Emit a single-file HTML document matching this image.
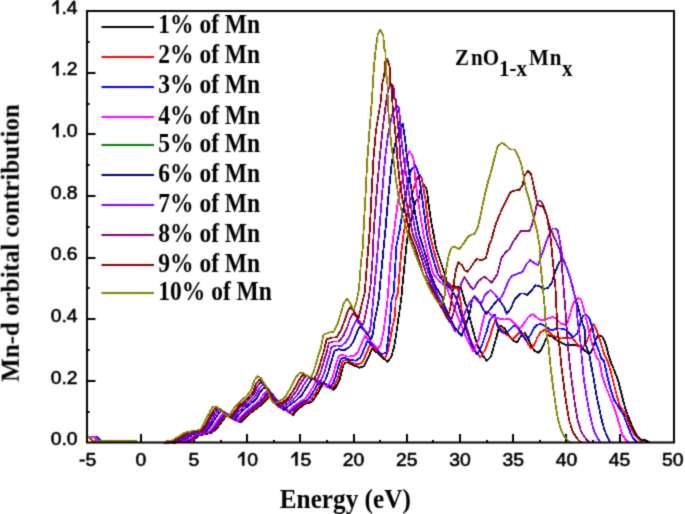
<!DOCTYPE html>
<html><head><meta charset="utf-8"><style>
html,body{margin:0;padding:0;background:#fff;width:685px;height:514px;overflow:hidden}
svg{display:block}
.tl{font-family:"Liberation Sans",sans-serif;font-size:17.6px;fill:#000;stroke:#000;stroke-width:0.55px;stroke-linejoin:round}
.al{font-family:"Liberation Serif",serif;font-weight:bold;font-size:24.5px;fill:#000}
.lg{font-family:"Liberation Serif",serif;font-weight:bold;font-size:23.5px;fill:#000}
.ti{font-family:"Liberation Serif",serif;font-weight:bold;font-size:21px;fill:#000}
</style></head><body>
<svg width="685" height="514" viewBox="0 0 685 514">
<defs><filter id="sm" filterUnits="userSpaceOnUse" x="0" y="0" width="685" height="514" color-interpolation-filters="sRGB"><feConvolveMatrix order="3" kernelMatrix="0.0289 0.1122 0.0289 0.1122 0.4356 0.1122 0.0289 0.1122 0.0289" divisor="1" edgeMode="duplicate" preserveAlpha="true"/></filter></defs>
<rect width="685" height="514" fill="#fff"/>
<g filter="url(#sm)">
<rect width="685" height="514" fill="#fff"/>
<line x1="114.0" y1="442.5" x2="114.0" y2="439.9" stroke="#000" stroke-width="2"/>
<line x1="141.0" y1="442.5" x2="141.0" y2="434.0" stroke="#000" stroke-width="2"/>
<line x1="167.0" y1="442.5" x2="167.0" y2="439.9" stroke="#000" stroke-width="2"/>
<line x1="194.0" y1="442.5" x2="194.0" y2="434.0" stroke="#000" stroke-width="2"/>
<line x1="221.0" y1="442.5" x2="221.0" y2="439.9" stroke="#000" stroke-width="2"/>
<line x1="247.0" y1="442.5" x2="247.0" y2="434.0" stroke="#000" stroke-width="2"/>
<line x1="274.0" y1="442.5" x2="274.0" y2="439.9" stroke="#000" stroke-width="2"/>
<line x1="300.0" y1="442.5" x2="300.0" y2="434.0" stroke="#000" stroke-width="2"/>
<line x1="327.0" y1="442.5" x2="327.0" y2="439.9" stroke="#000" stroke-width="2"/>
<line x1="354.0" y1="442.5" x2="354.0" y2="434.0" stroke="#000" stroke-width="2"/>
<line x1="380.0" y1="442.5" x2="380.0" y2="439.9" stroke="#000" stroke-width="2"/>
<line x1="407.0" y1="442.5" x2="407.0" y2="434.0" stroke="#000" stroke-width="2"/>
<line x1="433.0" y1="442.5" x2="433.0" y2="439.9" stroke="#000" stroke-width="2"/>
<line x1="460.0" y1="442.5" x2="460.0" y2="434.0" stroke="#000" stroke-width="2"/>
<line x1="487.0" y1="442.5" x2="487.0" y2="439.9" stroke="#000" stroke-width="2"/>
<line x1="513.0" y1="442.5" x2="513.0" y2="434.0" stroke="#000" stroke-width="2"/>
<line x1="540.0" y1="442.5" x2="540.0" y2="439.9" stroke="#000" stroke-width="2"/>
<line x1="566.0" y1="442.5" x2="566.0" y2="434.0" stroke="#000" stroke-width="2"/>
<line x1="593.0" y1="442.5" x2="593.0" y2="439.9" stroke="#000" stroke-width="2"/>
<line x1="620.0" y1="442.5" x2="620.0" y2="434.0" stroke="#000" stroke-width="2"/>
<line x1="646.0" y1="442.5" x2="646.0" y2="439.9" stroke="#000" stroke-width="2"/>
<line x1="87.0" y1="412.0" x2="89.6" y2="412.0" stroke="#000" stroke-width="2"/>
<line x1="87.0" y1="381.0" x2="95.5" y2="381.0" stroke="#000" stroke-width="2"/>
<line x1="87.0" y1="350.0" x2="89.6" y2="350.0" stroke="#000" stroke-width="2"/>
<line x1="87.0" y1="319.0" x2="95.5" y2="319.0" stroke="#000" stroke-width="2"/>
<line x1="87.0" y1="288.0" x2="89.6" y2="288.0" stroke="#000" stroke-width="2"/>
<line x1="87.0" y1="258.0" x2="95.5" y2="258.0" stroke="#000" stroke-width="2"/>
<line x1="87.0" y1="227.0" x2="89.6" y2="227.0" stroke="#000" stroke-width="2"/>
<line x1="87.0" y1="196.0" x2="95.5" y2="196.0" stroke="#000" stroke-width="2"/>
<line x1="87.0" y1="165.0" x2="89.6" y2="165.0" stroke="#000" stroke-width="2"/>
<line x1="87.0" y1="134.0" x2="95.5" y2="134.0" stroke="#000" stroke-width="2"/>
<line x1="87.0" y1="104.0" x2="89.6" y2="104.0" stroke="#000" stroke-width="2"/>
<line x1="87.0" y1="73.0" x2="95.5" y2="73.0" stroke="#000" stroke-width="2"/>
<line x1="87.0" y1="42.0" x2="89.6" y2="42.0" stroke="#000" stroke-width="2"/>
<path d="M87.0,436.8 L94.0,436.8 L96.0,438.3 L98.0,440.5 L100.0,440.9 L136.0,440.9 L138.0,442.5 M174.0,443.2 L176.0,442.4 L179.0,441.5 L185.0,441.3 L188.0,440.8 L192.6,440.5 L197.0,437.0 L199.5,435.4 L203.0,434.5 L206.0,434.0 L212.0,432.5 L214.0,431.0 L216.5,428.5 L219.5,425.0 L222.8,420.3 L225.7,416.9 L228.6,415.2 L231.0,415.5 L234.0,418.5 L238.0,421.5 L240.5,422.5 L244.0,419.0 L248.7,414.4 L253.3,410.9 L258.0,407.4 L262.7,403.9 L266.2,400.3 L270.0,396.5 L274.0,397.5 L280.0,403.0 L285.0,408.0 L289.0,412.0 L293.0,414.8 L299.0,408.4 L305.2,403.8 L311.4,402.2 L316.1,396.0 L322.3,385.1 L325.4,383.5 L329.0,386.0 L333.2,389.8 L336.3,386.7 L339.4,380.4 L341.8,371.1 L343.6,365.0 L345.0,363.0 L347.7,362.2 L353.2,365.0 L359.3,367.7 L364.1,366.3 L368.1,358.1 L372.0,348.5 L380.4,355.4 L387.5,362.0 L391.3,356.8 L394.0,347.2 L395.9,336.3 L398.6,317.2 L401.1,300.0 L403.0,280.0 L405.2,258.0 L407.0,240.0 L410.0,225.0 L413.0,212.0 L415.4,201.0 L419.2,198.4 L419.8,191.4 L421.5,186.7 L423.9,184.9 L426.2,187.9 L427.4,193.7 L428.0,200.0 L431.2,222.0 L433.7,235.0 L436.0,248.0 L440.0,260.0 L444.7,274.0 L447.1,282.6 L452.0,286.0 L456.0,286.5 L460.7,287.0 L462.7,294.3 L464.6,301.1 L467.2,308.6 L469.9,318.1 L473.5,332.0 L477.3,345.1 L482.0,354.4 L486.8,360.9 L490.9,356.8 L493.6,347.2 L496.3,337.7 L498.4,329.5 L501.1,326.1 L504.5,328.2 L508.6,335.0 L512.7,340.4 L516.8,342.5 L520.9,336.3 L525.0,332.9 L528.4,339.1 L531.8,347.2 L535.2,351.3 L538.6,352.7 L542.0,348.6 L545.4,340.4 L548.1,335.0 L553.1,337.2 L557.2,340.6 L561.3,342.7 L565.4,344.7 L570.4,345.2 L575.9,345.2 L581.3,347.2 L585.4,351.3 L589.5,354.0 L592.2,350.0 L595.0,341.8 L597.7,335.0 L601.8,336.3 L604.5,340.4 L606.6,347.2 L608.6,355.4 L610.5,361.1 L614.2,370.3 L617.9,379.6 L620.7,390.7 L623.4,401.8 L626.2,411.0 L629.0,418.4 L632.7,427.6 L636.4,435.0 L641.0,439.6 L646.5,440.6 L649.3,442.4 " stroke="#000000" stroke-width="1.8" fill="none" stroke-linejoin="round" shape-rendering="crispEdges"/>
<path d="M87.0,436.8 L93.0,436.8 L95.0,438.3 L97.0,440.5 L99.0,440.9 L136.0,440.9 L138.0,442.5 M173.1,443.2 L175.1,442.4 L178.1,441.4 L184.0,441.2 L187.0,440.6 L191.6,440.2 L195.9,436.7 L198.5,435.2 L202.0,434.3 L205.0,433.8 L211.0,432.3 L213.0,430.8 L215.5,428.2 L218.4,424.5 L221.7,419.8 L224.5,416.4 L227.4,414.6 L229.8,414.8 L232.9,417.9 L237.0,421.0 L239.6,422.1 L243.1,418.3 L247.8,413.7 L252.3,410.2 L257.1,406.6 L261.8,402.9 L265.3,398.8 L269.0,395.0 L272.9,396.1 L278.9,401.7 L283.7,407.0 L287.6,411.2 L291.5,414.0 L297.4,407.9 L303.6,403.3 L309.8,401.1 L314.5,394.6 L320.5,384.2 L323.7,382.8 L327.2,385.3 L331.4,388.9 L334.5,385.6 L337.5,379.2 L339.9,370.0 L341.8,363.8 L343.3,360.9 L346.2,360.1 L351.7,362.6 L357.6,364.4 L362.3,362.3 L366.1,354.2 L370.0,344.9 L378.0,351.6 L384.8,358.2 L387.2,354.0 L389.9,340.4 L392.5,326.8 L395.2,314.5 L395.6,300.0 L397.9,292.7 L401.1,254.0 L403.8,232.0 L408.0,210.0 L413.0,191.0 L417.4,177.4 L419.8,174.4 L422.1,179.7 L423.3,186.7 L424.4,193.7 L425.6,200.0 L427.0,215.0 L429.8,235.0 L435.0,255.0 L440.7,274.0 L447.0,283.0 L452.0,287.0 L457.8,288.5 L460.7,302.1 L461.7,310.9 L466.0,325.0 L470.0,338.0 L475.0,350.0 L480.4,357.5 L485.1,349.8 L489.8,337.3 L492.9,326.4 L495.2,321.0 L500.4,328.2 L504.5,332.3 L508.6,336.3 L512.7,339.1 L516.8,335.0 L520.9,330.9 L525.0,337.7 L528.4,344.5 L531.1,348.6 L534.5,344.5 L537.2,337.7 L540.6,332.3 L544.0,330.2 L548.1,330.9 L553.1,335.9 L557.2,337.2 L561.3,338.6 L565.4,337.9 L570.4,337.7 L574.5,340.4 L578.6,345.9 L582.7,347.2 L586.8,341.8 L590.9,329.5 L593.6,324.1 L596.3,329.5 L598.4,335.0 L600.4,341.8 L602.5,348.6 L604.5,355.4 L607.7,361.1 L611.4,374.0 L614.2,385.1 L617.0,396.2 L619.7,405.5 L623.4,411.0 L627.1,418.4 L630.8,427.6 L634.5,435.0 L639.1,439.6 L642.8,442.4 " stroke="#ff0000" stroke-width="1.8" fill="none" stroke-linejoin="round" shape-rendering="crispEdges"/>
<path d="M87.0,436.8 L97.0,436.8 L99.0,438.3 L101.0,440.5 L103.0,440.9 L136.0,440.9 L138.0,442.5 M172.1,443.2 L174.1,442.4 L176.9,441.4 L182.8,441.2 L185.7,440.4 L190.4,439.8 L194.7,436.4 L197.2,434.9 L200.7,434.1 L203.7,433.5 L209.7,432.2 L211.7,430.6 L214.2,427.9 L217.1,424.0 L220.3,419.3 L223.1,415.8 L225.9,413.9 L228.4,414.1 L231.6,417.2 L235.7,420.4 L238.4,421.6 L242.0,417.6 L246.7,412.9 L251.2,409.4 L256.0,405.6 L260.7,401.7 L264.1,397.2 L267.8,393.4 L271.6,394.5 L277.5,400.4 L282.1,405.8 L285.9,410.2 L289.6,413.1 L295.5,407.3 L301.6,402.8 L307.8,399.8 L312.5,393.1 L318.3,383.2 L321.6,382.0 L325.1,384.4 L329.2,387.9 L332.3,384.3 L335.3,377.8 L337.7,368.7 L339.6,362.4 L341.2,358.7 L344.4,357.7 L349.8,359.9 L355.6,360.7 L360.1,357.9 L363.8,349.8 L367.5,340.9 L375.0,347.4 L381.5,354.0 L386.3,352.7 L389.0,330.9 L391.6,300.0 L393.8,292.7 L396.3,247.0 L399.7,230.0 L401.8,217.0 L404.0,205.0 L407.5,185.0 L411.0,170.0 L415.1,165.1 L417.4,170.3 L418.6,175.0 L419.8,182.0 L420.9,189.0 L422.1,197.2 L424.0,212.0 L427.1,235.0 L432.0,255.0 L437.7,274.0 L444.0,282.0 L450.0,288.0 L455.9,297.2 L458.8,306.0 L460.7,313.8 L465.0,326.0 L470.0,340.0 L474.0,350.0 L477.3,354.4 L482.0,345.1 L486.7,331.1 L489.6,320.8 L492.9,315.6 L495.0,315.0 L497.7,326.8 L501.8,332.3 L505.9,333.6 L510.0,329.5 L514.1,325.4 L518.1,328.2 L522.2,335.0 L526.3,340.4 L530.4,335.0 L533.8,328.2 L537.2,324.8 L541.3,324.1 L545.4,326.1 L550.0,329.5 L551.8,330.4 L555.9,328.4 L559.9,328.4 L564.0,329.0 L568.1,331.8 L573.2,337.0 L577.3,333.6 L580.0,324.1 L582.7,315.9 L586.1,314.5 L588.8,317.2 L590.9,322.7 L592.9,329.5 L594.3,337.7 L596.3,344.5 L599.1,351.3 L601.1,358.1 L604.0,361.1 L606.8,374.0 L610.5,388.8 L614.2,399.9 L618.8,407.3 L623.4,414.7 L627.1,423.9 L629.9,431.3 L633.6,438.7 L637.3,442.4 " stroke="#0000ff" stroke-width="1.8" fill="none" stroke-linejoin="round" shape-rendering="crispEdges"/>
<path d="M87.0,436.8 L94.5,436.8 L96.5,438.3 L98.5,440.5 L100.5,440.9 L136.0,440.9 L138.0,442.5 M170.9,443.2 L172.9,442.4 L175.7,441.3 L181.4,441.1 L184.3,440.2 L189.0,439.3 L193.3,436.1 L195.8,434.6 L199.3,433.9 L202.3,433.1 L208.4,431.9 L210.3,430.4 L212.8,427.5 L215.7,423.3 L218.8,418.7 L221.5,415.0 L224.2,413.0 L226.8,413.2 L230.1,416.3 L234.3,419.7 L237.2,421.1 L240.8,416.7 L245.5,411.9 L249.9,408.4 L254.8,404.5 L259.5,400.3 L262.9,395.3 L266.5,391.4 L270.2,392.6 L276.0,398.7 L280.4,404.5 L284.1,409.1 L287.6,412.0 L293.3,406.7 L299.5,402.2 L305.7,398.3 L310.4,391.3 L315.9,381.9 L319.3,381.0 L322.7,383.4 L326.8,386.7 L329.9,382.8 L332.8,376.1 L335.2,367.2 L337.1,360.7 L338.9,355.9 L342.5,354.8 L347.8,356.6 L353.3,356.2 L357.7,352.5 L361.2,344.5 L364.9,335.9 L371.8,342.2 L377.9,348.9 L380.9,344.5 L383.6,330.9 L386.3,310.4 L387.5,300.0 L389.0,280.0 L391.0,255.0 L393.8,233.4 L397.6,204.0 L400.0,190.0 L402.5,181.0 L404.5,169.0 L406.5,158.0 L409.3,151.1 L412.2,155.2 L413.9,161.0 L414.5,170.3 L415.1,178.5 L416.3,186.7 L417.4,196.0 L419.5,210.0 L423.6,235.0 L428.0,255.0 L433.3,274.0 L440.0,282.0 L447.0,287.0 L449.0,294.0 L454.0,307.0 L460.0,322.0 L466.0,337.0 L470.0,345.0 L473.4,351.3 L478.9,338.9 L482.0,324.9 L484.3,315.6 L486.0,311.5 L488.5,312.0 L492.0,316.0 L497.0,318.0 L501.0,319.0 L504.1,319.5 L508.2,318.8 L512.3,320.9 L516.3,325.6 L520.4,328.4 L523.8,323.6 L528.6,316.8 L532.7,314.1 L536.8,317.5 L540.9,320.2 L545.0,320.2 L549.0,318.1 L553.1,316.8 L557.2,319.5 L561.3,323.6 L565.4,325.0 L567.7,322.7 L571.8,307.7 L574.5,300.9 L577.9,298.2 L581.3,299.5 L583.4,307.7 L585.4,315.9 L587.5,324.1 L589.5,333.6 L591.6,341.8 L593.6,348.6 L596.3,356.8 L599.4,361.1 L602.2,375.9 L605.9,387.0 L609.6,396.2 L613.3,405.5 L617.0,416.5 L619.7,425.8 L622.5,435.0 L626.2,440.6 L629.0,442.4 " stroke="#ff00ff" stroke-width="1.8" fill="none" stroke-linejoin="round" shape-rendering="crispEdges"/>
<path d="M87.0,436.8 L88.0,436.8 L90.0,438.3 L92.0,440.5 L94.0,440.9 L136.0,440.9 L138.0,442.5 M168.7,443.2 L170.7,442.4 L173.3,441.1 L178.9,440.9 L181.7,439.8 L186.4,438.5 L190.6,435.4 L193.2,434.1 L196.7,433.5 L199.7,432.5 L205.8,431.5 L207.7,429.9 L210.2,426.7 L213.0,422.1 L216.0,417.5 L218.6,413.6 L221.1,411.4 L223.9,411.5 L227.3,414.7 L231.6,418.4 L234.8,420.0 L238.5,415.0 L243.2,410.0 L247.4,406.5 L252.5,402.3 L257.2,397.6 L260.5,391.5 L264.0,387.6 L267.5,388.9 L273.1,395.4 L277.1,401.8 L280.6,406.9 L283.8,409.8 L289.3,405.4 L295.4,401.0 L301.6,395.4 L306.3,387.8 L311.4,379.6 L314.9,379.1 L318.2,381.5 L322.3,384.3 L325.4,379.8 L328.1,372.9 L330.5,364.3 L332.5,357.4 L334.5,350.5 L338.7,349.2 L343.9,350.4 L349.1,347.6 L353.1,342.2 L356.2,334.3 L359.8,326.5 L365.7,332.3 L371.1,339.1 L373.0,334.0 L374.1,324.0 L376.8,310.0 L378.6,300.0 L381.5,270.0 L385.4,230.0 L388.5,195.0 L391.7,163.0 L396.0,140.0 L400.0,128.0 L402.7,123.5 L405.2,140.0 L406.3,151.7 L407.5,159.8 L410.0,180.0 L413.0,200.0 L416.0,218.0 L419.3,235.0 L425.0,253.0 L430.5,274.0 L436.0,287.0 L442.2,297.2 L444.2,305.0 L450.0,318.0 L455.0,328.0 L461.4,336.0 L466.0,325.0 L470.0,312.0 L472.0,300.0 L474.1,296.3 L478.2,300.3 L483.6,309.9 L486.3,314.0 L491.8,307.1 L497.2,300.3 L499.9,300.8 L504.0,307.1 L506.7,314.0 L510.8,308.5 L514.9,299.0 L520.3,293.5 L523.8,293.6 L527.2,295.0 L531.3,290.9 L535.4,285.4 L539.5,286.1 L543.6,288.9 L547.7,288.2 L551.8,282.7 L555.3,271.3 L559.6,261.7 L563.9,260.6 L567.1,269.2 L571.3,282.0 L575.6,299.1 L577.9,306.3 L580.7,317.2 L582.7,324.1 L585.0,330.0 L585.4,344.5 L589.2,353.7 L591.1,364.8 L593.9,379.6 L596.6,396.2 L599.4,409.1 L602.2,422.1 L605.0,431.3 L607.7,437.8 L610.5,442.4 " stroke="#008000" stroke-width="1.8" fill="none" stroke-linejoin="round" shape-rendering="crispEdges"/>
<path d="M87.0,436.8 L88.0,436.8 L90.0,438.3 L92.0,440.5 L94.0,440.9 L136.0,440.9 L138.0,442.5 M168.7,443.2 L170.7,442.4 L173.3,441.1 L178.9,440.9 L181.7,439.8 L186.4,438.5 L190.6,435.4 L193.2,434.1 L196.7,433.5 L199.7,432.5 L205.8,431.5 L207.7,429.9 L210.2,426.7 L213.0,422.1 L216.0,417.5 L218.6,413.6 L221.1,411.4 L223.9,411.5 L227.3,414.7 L231.6,418.4 L234.8,420.0 L238.5,415.0 L243.2,410.0 L247.4,406.5 L252.5,402.3 L257.2,397.6 L260.5,391.5 L264.0,387.6 L267.5,388.9 L273.1,395.4 L277.1,401.8 L280.6,406.9 L283.8,409.8 L289.3,405.4 L295.4,401.0 L301.6,395.4 L306.3,387.8 L311.4,379.6 L314.9,379.1 L318.2,381.5 L322.3,384.3 L325.4,379.8 L328.1,372.9 L330.5,364.3 L332.5,357.4 L334.5,350.5 L338.7,349.2 L343.9,350.4 L349.1,347.6 L353.1,342.2 L356.2,334.3 L359.8,326.5 L365.7,332.3 L371.1,339.1 L373.0,334.0 L374.1,324.0 L376.8,310.0 L378.6,300.0 L381.5,270.0 L385.4,230.0 L388.5,195.0 L391.7,163.0 L396.0,140.0 L400.0,128.0 L402.7,123.5 L405.2,140.0 L406.3,151.7 L407.5,159.8 L410.0,180.0 L413.0,200.0 L416.0,218.0 L419.3,235.0 L425.0,253.0 L430.5,274.0 L436.0,287.0 L442.2,297.2 L444.2,305.0 L450.0,318.0 L455.0,328.0 L461.4,336.0 L466.0,325.0 L470.0,312.0 L472.0,300.0 L474.1,296.3 L478.2,300.3 L483.6,309.9 L486.3,314.0 L491.8,307.1 L497.2,300.3 L499.9,300.8 L504.0,307.1 L506.7,314.0 L510.8,308.5 L514.9,299.0 L520.3,293.5 L523.8,293.6 L527.2,295.0 L531.3,290.9 L535.4,285.4 L539.5,286.1 L543.6,288.9 L547.7,288.2 L551.8,282.7 L555.3,271.3 L559.6,261.7 L563.9,260.6 L567.1,269.2 L571.3,282.0 L575.6,299.1 L577.9,306.3 L580.7,317.2 L582.7,324.1 L585.0,330.0 L585.4,344.5 L589.2,353.7 L591.1,364.8 L593.9,379.6 L596.6,396.2 L599.4,409.1 L602.2,422.1 L605.0,431.3 L607.7,437.8 L610.5,442.4 " stroke="#000080" stroke-width="1.8" fill="none" stroke-linejoin="round" shape-rendering="crispEdges"/>
<path d="M87.0,436.8 L88.0,436.8 L90.0,438.3 L92.0,440.5 L94.0,440.9 L136.0,440.9 L138.0,442.5 M167.1,443.2 L169.1,442.4 L171.6,441.0 L177.2,440.8 L180.0,439.5 L184.7,437.9 L188.8,434.9 L191.4,433.7 L194.9,433.2 L197.9,432.1 L204.0,431.3 L205.9,429.6 L208.4,426.2 L211.2,421.3 L214.1,416.7 L216.5,412.7 L219.0,410.3 L221.8,410.3 L225.4,413.6 L229.8,417.5 L233.2,419.3 L237.0,413.8 L241.7,408.7 L245.8,405.2 L251.0,400.8 L255.7,395.8 L258.9,388.9 L262.3,385.0 L265.7,386.4 L271.2,393.2 L274.8,400.0 L278.2,405.4 L281.2,408.4 L286.5,404.5 L292.6,400.2 L298.8,393.4 L303.5,385.4 L308.3,378.0 L311.9,377.8 L315.2,380.2 L319.2,382.7 L322.3,377.9 L324.9,370.7 L327.2,362.3 L329.4,355.2 L331.5,346.9 L336.2,345.4 L341.2,346.1 L346.2,341.8 L350.0,335.2 L352.8,327.4 L356.3,320.1 L361.5,325.6 L366.4,332.5 L368.0,333.0 L370.0,331.0 L371.5,318.0 L373.2,300.0 L376.0,270.0 L379.3,230.0 L382.0,195.0 L384.9,160.0 L388.0,135.0 L392.0,115.0 L396.9,105.3 L399.0,108.0 L400.0,120.0 L401.5,140.0 L404.0,160.0 L407.0,180.0 L410.0,200.0 L413.0,218.0 L416.2,235.0 L422.0,252.0 L428.9,274.0 L434.0,287.0 L440.0,300.0 L446.0,313.0 L451.0,323.0 L455.0,331.0 L458.0,330.0 L462.0,320.0 L466.0,310.0 L470.0,302.0 L474.0,297.0 L478.0,301.0 L481.6,303.1 L485.0,294.9 L490.4,290.1 L495.2,294.9 L499.3,300.3 L502.7,294.9 L506.1,286.7 L508.8,279.9 L512.2,275.9 L517.6,273.8 L522.4,271.8 L525.8,265.0 L530.0,260.2 L533.9,262.8 L538.2,264.9 L543.5,250.0 L546.0,242.5 L548.3,236.7 L550.7,230.9 L553.0,228.5 L555.3,228.5 L557.7,230.9 L558.9,236.7 L560.6,245.7 L562.7,259.1 L566.8,267.2 L569.5,275.4 L572.3,285.0 L574.3,294.5 L576.3,302.7 L577.3,317.2 L580.0,337.7 L582.0,360.0 L583.7,377.7 L586.5,396.2 L589.2,411.0 L592.0,423.9 L594.8,433.2 L598.5,439.6 L600.3,442.4 " stroke="#8000ff" stroke-width="1.8" fill="none" stroke-linejoin="round" shape-rendering="crispEdges"/>
<path d="M87.0,436.8 L88.0,436.8 L90.0,438.3 L92.0,440.5 L94.0,440.9 L136.0,440.9 L138.0,442.5 M165.8,443.2 L167.8,442.4 L170.1,440.9 L175.6,440.7 L178.3,439.2 L183.1,437.3 L187.1,434.4 L189.8,433.3 L193.2,432.9 L196.2,431.6 L202.4,431.0 L204.2,429.2 L206.8,425.7 L209.5,420.4 L212.3,415.9 L214.7,411.7 L217.0,409.1 L220.0,409.1 L223.6,412.4 L228.2,416.6 L231.7,418.5 L235.5,412.5 L240.2,407.4 L244.2,403.8 L249.5,399.2 L254.2,393.8 L257.4,386.2 L260.7,382.3 L264.0,383.7 L269.4,390.8 L272.8,398.1 L276.0,403.8 L278.8,406.9 L284.0,403.5 L290.1,399.3 L296.2,391.3 L300.9,382.8 L305.4,376.2 L309.1,376.4 L312.4,378.8 L316.3,381.0 L319.4,375.7 L321.9,368.4 L324.2,360.2 L326.5,352.9 L328.8,343.0 L333.8,341.4 L338.8,341.6 L343.5,335.6 L347.1,327.7 L349.7,320.0 L353.1,313.3 L357.6,318.4 L362.1,325.4 L364.0,322.0 L366.0,312.0 L368.4,300.0 L370.5,285.0 L372.5,260.0 L373.8,230.0 L376.5,195.0 L379.5,160.0 L382.5,130.0 L385.9,103.5 L388.0,90.0 L391.2,83.4 L393.6,87.3 L393.8,98.2 L395.9,100.0 L397.0,115.0 L399.0,135.0 L400.5,160.0 L403.0,180.0 L406.0,200.0 L409.5,218.0 L413.1,235.0 L419.0,250.0 L426.3,274.0 L432.0,287.0 L438.0,300.0 L444.0,312.0 L447.0,318.0 L450.0,322.0 L452.0,318.0 L455.0,307.0 L458.0,296.0 L461.0,284.0 L464.5,277.2 L467.2,281.3 L470.0,286.0 L473.4,289.5 L478.2,281.3 L484.3,276.5 L491.8,282.7 L497.2,274.5 L499.3,266.3 L501.3,258.2 L505.4,252.7 L509.5,249.0 L512.0,243.6 L515.9,237.8 L521.3,230.5 L525.0,230.9 L529.7,230.9 L531.4,226.2 L533.2,220.3 L534.9,213.3 L536.1,207.5 L537.8,201.7 L540.8,201.1 L543.1,204.6 L544.8,209.8 L546.6,215.7 L548.3,222.7 L551.0,230.0 L553.0,234.4 L556.5,242.5 L560.0,250.0 L561.4,260.4 L563.4,285.0 L565.4,310.0 L566.8,330.0 L567.8,344.3 L570.2,368.6 L572.7,388.1 L575.1,405.1 L577.5,419.7 L581.2,431.8 L586.0,439.1 L589.7,442.4 " stroke="#800080" stroke-width="1.8" fill="none" stroke-linejoin="round" shape-rendering="crispEdges"/>
<path d="M87.0,436.8 L88.0,436.8 L90.0,438.3 L92.0,440.5 L94.0,440.9 L136.0,440.9 L138.0,442.5 M164.6,443.2 L166.6,442.4 L168.9,440.8 L174.2,440.6 L176.9,438.9 L181.7,436.7 L185.7,433.9 L188.4,432.9 L191.9,432.6 L194.9,431.2 L201.0,430.7 L202.9,428.9 L205.4,425.2 L208.1,419.5 L210.8,415.1 L213.1,410.7 L215.4,408.0 L218.4,407.9 L222.2,411.3 L226.8,415.7 L230.5,417.8 L234.3,411.3 L239.0,406.1 L242.9,402.5 L248.3,397.7 L253.0,392.0 L256.2,383.6 L259.4,379.7 L262.6,381.2 L267.8,388.6 L271.0,396.3 L274.1,402.3 L276.7,405.4 L281.9,402.7 L287.9,398.5 L294.1,389.3 L298.8,380.4 L303.0,374.6 L306.8,375.1 L310.0,377.5 L313.9,379.4 L317.0,373.7 L319.4,366.2 L321.7,358.2 L324.1,350.7 L326.5,339.4 L331.8,337.6 L336.7,337.3 L341.2,329.7 L344.6,320.6 L347.1,313.0 L350.4,306.9 L354.3,311.6 L358.4,318.7 L362.9,300.0 L364.5,294.0 L365.5,283.0 L367.1,262.0 L368.5,245.0 L369.8,230.0 L371.5,195.0 L373.4,160.0 L376.0,130.0 L378.5,115.0 L381.0,100.0 L382.0,85.0 L384.3,75.0 L385.0,62.0 L387.2,58.9 L389.7,67.0 L390.0,84.0 L392.0,87.0 L392.5,105.0 L394.5,125.0 L396.5,145.0 L397.5,160.0 L399.5,180.0 L402.5,200.0 L406.0,215.0 L410.1,235.0 L416.0,250.0 L423.2,274.0 L429.0,285.0 L434.0,295.0 L440.0,305.0 L444.0,312.0 L447.0,316.0 L449.5,312.0 L451.0,304.0 L452.5,292.0 L454.0,282.0 L455.0,275.0 L456.5,267.7 L458.4,262.3 L461.8,265.0 L464.5,270.4 L467.2,271.8 L470.6,267.7 L474.0,262.3 L477.0,259.2 L481.8,260.2 L485.7,258.2 L487.7,251.4 L489.6,243.6 L491.4,240.0 L495.7,224.1 L501.0,211.3 L506.4,200.6 L510.6,192.0 L512.8,191.0 L519.2,189.9 L522.4,185.6 L524.5,176.0 L527.8,170.6 L531.0,173.9 L533.1,183.5 L535.0,192.3 L536.1,198.2 L538.5,205.5 L542.5,206.3 L544.8,211.0 L547.2,216.8 L548.3,223.9 L549.5,230.9 L550.7,239.0 L551.8,250.0 L553.0,262.8 L554.2,275.6 L555.3,284.2 L556.5,310.0 L557.4,330.0 L559.3,344.3 L561.7,368.6 L564.2,388.1 L566.6,405.1 L569.0,419.7 L572.7,431.8 L577.5,439.1 L581.2,442.4 " stroke="#800000" stroke-width="1.8" fill="none" stroke-linejoin="round" shape-rendering="crispEdges"/>
<path d="M87.0,436.8 L89.0,436.8 L91.0,438.3 L93.0,440.5 L95.0,440.9 L136.0,440.9 L138.0,442.5 M163.0,443.2 L165.0,442.4 L167.2,440.7 L172.4,440.5 L175.1,438.5 L179.9,435.9 L183.8,433.3 L186.5,432.4 L190.0,432.2 L193.0,430.6 L199.2,430.3 L201.0,428.5 L203.5,424.5 L206.2,418.4 L208.8,414.0 L211.0,409.5 L213.2,406.6 L216.3,406.4 L220.2,409.8 L224.9,414.5 L228.8,416.8 L232.7,409.8 L237.4,404.4 L241.2,400.8 L246.7,395.8 L251.4,389.6 L254.5,380.2 L257.6,376.3 L260.7,377.9 L265.8,385.7 L268.7,393.9 L271.6,400.3 L274.0,403.5 L279.0,401.5 L285.0,397.4 L291.2,386.7 L295.9,377.3 L299.8,372.5 L303.7,373.4 L306.8,375.8 L310.7,377.3 L313.8,371.1 L316.1,363.3 L318.4,355.6 L320.8,347.8 L323.4,334.6 L329.2,332.6 L334.0,331.7 L338.2,322.0 L341.4,311.4 L343.6,303.9 L346.8,298.5 L350.0,302.8 L353.6,310.0 L356.5,302.0 L358.5,292.0 L359.6,281.4 L361.0,262.0 L362.8,248.0 L363.6,230.0 L365.5,195.0 L367.3,160.0 L369.5,130.0 L371.9,100.0 L373.8,68.6 L375.7,49.2 L377.7,34.6 L380.2,29.7 L383.4,36.0 L384.0,48.0 L385.5,52.0 L386.0,75.0 L387.3,78.0 L387.8,105.0 L389.5,125.0 L391.3,145.0 L393.5,160.0 L396.0,180.0 L399.0,200.0 L402.5,215.0 L406.6,230.0 L411.0,243.0 L415.4,254.5 L419.5,265.0 L423.6,274.9 L430.4,289.9 L434.5,297.0 L437.5,302.0 L441.0,304.0 L443.2,302.0 L445.0,294.0 L444.7,281.3 L446.1,270.4 L447.5,260.9 L449.5,252.7 L451.5,247.5 L455.0,246.8 L459.3,248.9 L463.5,243.6 L467.8,237.0 L471.0,235.0 L474.3,234.0 L477.5,228.4 L479.6,219.8 L481.8,209.1 L485.0,194.2 L488.2,181.3 L491.4,170.6 L494.6,157.8 L497.8,146.0 L502.1,142.8 L506.4,146.0 L509.6,149.3 L514.9,149.7 L518.1,155.7 L521.3,164.2 L523.0,172.8 L524.5,181.3 L526.2,190.0 L528.5,197.0 L530.3,204.0 L532.0,211.0 L533.8,218.0 L535.5,225.0 L537.3,232.0 L538.4,239.0 L539.6,246.0 L540.3,262.8 L542.5,284.2 L544.6,305.6 L546.0,330.0 L548.4,344.3 L550.8,368.6 L553.2,388.1 L555.7,405.1 L558.1,419.7 L561.7,431.8 L565.4,437.9 L570.2,442.4 " stroke="#808000" stroke-width="1.8" fill="none" stroke-linejoin="round" shape-rendering="crispEdges"/>
<rect x="87.0" y="11.0" width="587.0" height="431.5" fill="none" stroke="#000" stroke-width="2"/>
<g transform="translate(78.99,465.60) scale(1.100,1.080)"><text x="0.00" y="0" class="tl">-5</text></g>
<g transform="translate(135.42,465.60) scale(1.100,1.080)"><text x="0.00" y="0" class="tl">0</text></g>
<g transform="translate(188.62,465.60) scale(1.100,1.080)"><text x="0.00" y="0" class="tl">5</text></g>
<g transform="translate(236.44,465.60) scale(1.100,1.080)"><path class="tl" d="M5.28,0.00 L7.04,0.00 L7.04,-12.60 L5.72,-12.60 L1.76,-8.62 L1.76,-6.78 L5.28,-9.86 Z"/><text x="9.79" y="0" class="tl">0</text></g>
<g transform="translate(289.64,465.60) scale(1.100,1.080)"><path class="tl" d="M5.28,0.00 L7.04,0.00 L7.04,-12.60 L5.72,-12.60 L1.76,-8.62 L1.76,-6.78 L5.28,-9.86 Z"/><text x="9.79" y="0" class="tl">5</text></g>
<g transform="translate(342.84,465.60) scale(1.100,1.080)"><text x="0.00" y="0" class="tl">20</text></g>
<g transform="translate(396.04,465.60) scale(1.100,1.080)"><text x="0.00" y="0" class="tl">25</text></g>
<g transform="translate(449.24,465.60) scale(1.100,1.080)"><text x="0.00" y="0" class="tl">30</text></g>
<g transform="translate(502.44,465.60) scale(1.100,1.080)"><text x="0.00" y="0" class="tl">35</text></g>
<g transform="translate(555.64,465.60) scale(1.100,1.080)"><text x="0.00" y="0" class="tl">40</text></g>
<g transform="translate(608.84,465.60) scale(1.100,1.080)"><text x="0.00" y="0" class="tl">45</text></g>
<g transform="translate(662.04,465.60) scale(1.100,1.080)"><text x="0.00" y="0" class="tl">50</text></g>
<g transform="translate(50.69,445.20) scale(1.100,1.080)"><text x="0.00" y="0" class="tl">0.0</text></g>
<g transform="translate(50.69,383.58) scale(1.100,1.080)"><text x="0.00" y="0" class="tl">0.2</text></g>
<g transform="translate(50.69,321.96) scale(1.100,1.080)"><text x="0.00" y="0" class="tl">0.4</text></g>
<g transform="translate(50.69,260.34) scale(1.100,1.080)"><text x="0.00" y="0" class="tl">0.6</text></g>
<g transform="translate(50.69,198.72) scale(1.100,1.080)"><text x="0.00" y="0" class="tl">0.8</text></g>
<g transform="translate(50.69,137.10) scale(1.100,1.080)"><path class="tl" d="M5.28,0.00 L7.04,0.00 L7.04,-12.60 L5.72,-12.60 L1.76,-8.62 L1.76,-6.78 L5.28,-9.86 Z"/><text x="9.79" y="0" class="tl">.0</text></g>
<g transform="translate(50.69,75.48) scale(1.100,1.080)"><path class="tl" d="M5.28,0.00 L7.04,0.00 L7.04,-12.60 L5.72,-12.60 L1.76,-8.62 L1.76,-6.78 L5.28,-9.86 Z"/><text x="9.79" y="0" class="tl">.2</text></g>
<g transform="translate(50.69,13.86) scale(1.100,1.080)"><path class="tl" d="M5.28,0.00 L7.04,0.00 L7.04,-12.60 L5.72,-12.60 L1.76,-8.62 L1.76,-6.78 L5.28,-9.86 Z"/><text x="9.79" y="0" class="tl">.4</text></g>
<text transform="translate(345.3,507.6) scale(1.03,1.14)" text-anchor="middle" class="al">Energy (eV)</text>
<text transform="translate(18.6,243) rotate(-90) scale(1.02,1.04)" text-anchor="middle" class="al">Mn-d orbital contribution</text>
<rect x="101.5" y="26" width="52.5" height="2" fill="#000000"/>
<text transform="translate(158.3,33.4) scale(1,1.13)" class="lg">1%&#160;of Mn</text>
<rect x="101.5" y="56" width="52.5" height="2" fill="#ff0000"/>
<text transform="translate(158.3,63.4) scale(1,1.13)" class="lg">2%&#160;of Mn</text>
<rect x="101.5" y="86" width="52.5" height="2" fill="#0000ff"/>
<text transform="translate(158.3,93.4) scale(1,1.13)" class="lg">3%&#160;of Mn</text>
<rect x="101.5" y="116" width="52.5" height="2" fill="#ff00ff"/>
<text transform="translate(158.3,123.6) scale(1,1.13)" class="lg">4%&#160;of Mn</text>
<rect x="101.5" y="144" width="52.5" height="2" fill="#008000"/>
<text transform="translate(158.3,151.6) scale(1,1.13)" class="lg">5%&#160;of Mn</text>
<rect x="101.5" y="174" width="52.5" height="2" fill="#000080"/>
<text transform="translate(158.3,181.6) scale(1,1.13)" class="lg">6%&#160;of Mn</text>
<rect x="101.5" y="204" width="52.5" height="2" fill="#8000ff"/>
<text transform="translate(158.3,211.6) scale(1,1.13)" class="lg">7%&#160;of Mn</text>
<rect x="101.5" y="234" width="52.5" height="2" fill="#800080"/>
<text transform="translate(158.3,241.6) scale(1,1.13)" class="lg">8%&#160;of Mn</text>
<rect x="101.5" y="264" width="52.5" height="2" fill="#800000"/>
<text transform="translate(158.3,271.6) scale(1,1.13)" class="lg">9%&#160;of Mn</text>
<rect x="101.5" y="292" width="52.5" height="2" fill="#808000"/>
<text transform="translate(158.3,299.6) scale(1,1.13)" class="lg">10%&#160;of Mn</text>
<text transform="translate(455,65) scale(1,1.07)" class="ti">Z<tspan dx="2">n</tspan>O<tspan dy="10">1-x</tspan><tspan dy="-10" dx="2">M</tspan><tspan dx="1">n</tspan><tspan dy="10" dx="0.5">x</tspan></text>
</g>
</svg>
</body></html>
